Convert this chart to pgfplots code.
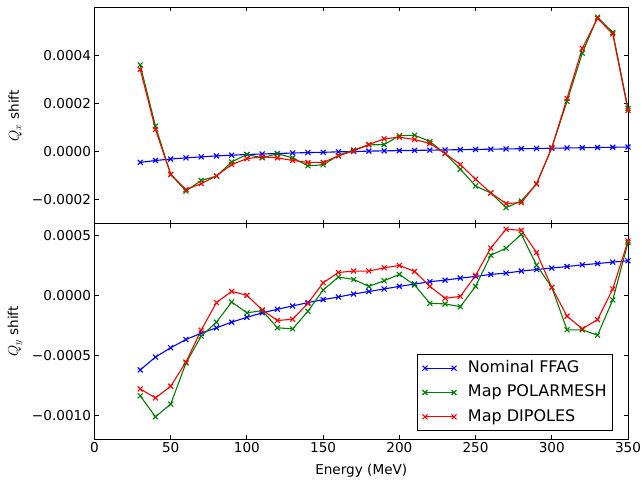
\documentclass[border=0pt]{standalone}
\usepackage{pgfplots}
\pgfplotsset{compat=1.18}
\usepackage{pgfplotstable}
\usepackage{fontspec}
\setmainfont{DejaVu Sans}
\definecolor{mplblue}{rgb}{0,0,1}
\definecolor{mplgreen}{rgb}{0,0.5,0}
\definecolor{mplred}{rgb}{1,0,0}

\pgfplotstableread{
E b g r
30 -4.4e-5 3.61e-4 3.43e-4
40 -3.6e-5 1.07e-4 0.93e-4
50 -3.0e-5 -0.94e-4 -0.94e-4
60 -2.5e-5 -1.63e-4 -1.57e-4
70 -2.1e-5 -1.19e-4 -1.32e-4
80 -1.7e-5 -1.01e-4 -1.00e-4
90 -1.4e-5 -0.42e-4 -0.53e-4
100 -1.1e-5 -0.11e-4 -0.28e-4
110 -0.9e-5 -0.25e-4 -0.21e-4
120 -0.7e-5 -0.08e-4 -0.25e-4
130 -0.5e-5 -0.25e-4 -0.36e-4
140 -0.3e-5 -0.58e-4 -0.44e-4
150 -0.2e-5 -0.54e-4 -0.44e-4
160 0.0 -0.15e-4 -0.17e-4
170 0.1e-5 0.08e-4 0.04e-4
180 0.3e-5 0.29e-4 0.30e-4
190 0.4e-5 0.30e-4 0.54e-4
200 0.5e-5 0.67e-4 0.61e-4
210 0.6e-5 0.69e-4 0.51e-4
220 0.7e-5 0.43e-4 0.35e-4
230 0.8e-5 -0.07e-4 -0.07e-4
240 0.9e-5 -0.72e-4 -0.53e-4
250 1.0e-5 -1.42e-4 -1.14e-4
260 1.1e-5 -1.71e-4 -1.71e-4
270 1.2e-5 -2.32e-4 -2.15e-4
280 1.3e-5 -2.04e-4 -2.11e-4
290 1.4e-5 -1.33e-4 -1.33e-4
300 1.5e-5 0.17e-4 0.17e-4
310 1.6e-5 2.10e-4 2.22e-4
320 1.7e-5 4.10e-4 4.30e-4
330 1.8e-5 5.60e-4 5.55e-4
340 1.9e-5 4.97e-4 4.90e-4
350 2.0e-5 1.80e-4 1.72e-4
}\qx

\pgfplotstableread{
E b g r
30 -6.22e-4 -8.39e-4 -7.81e-4
40 -5.14e-4 -10.14e-4 -8.56e-4
50 -4.36e-4 -9.08e-4 -7.58e-4
60 -3.67e-4 -5.64e-4 -5.56e-4
70 -3.14e-4 -3.39e-4 -2.89e-4
80 -2.69e-4 -2.22e-4 -0.58e-4
90 -2.22e-4 -0.53e-4 0.36e-4
100 -1.81e-4 -1.44e-4 0.03e-4
110 -1.44e-4 -1.25e-4 -1.19e-4
120 -1.14e-4 -2.69e-4 -2.08e-4
130 -0.86e-4 -2.78e-4 -1.97e-4
140 -0.58e-4 -1.31e-4 -0.64e-4
150 -0.33e-4 0.47e-4 1.08e-4
160 -0.11e-4 1.56e-4 1.94e-4
170 0.14e-4 1.36e-4 2.06e-4
180 0.35e-4 0.78e-4 2.06e-4
190 0.56e-4 1.25e-4 2.33e-4
200 0.78e-4 1.78e-4 2.53e-4
210 0.97e-4 0.89e-4 2.03e-4
220 1.17e-4 -0.64e-4 0.78e-4
230 1.30e-4 -0.69e-4 -0.22e-4
240 1.47e-4 -0.92e-4 -0.06e-4
250 1.61e-4 0.78e-4 1.69e-4
260 1.78e-4 3.39e-4 4.00e-4
270 1.89e-4 3.97e-4 5.56e-4
280 2.06e-4 5.14e-4 5.47e-4
290 2.19e-4 2.56e-4 3.61e-4
300 2.31e-4 0.69e-4 0.69e-4
310 2.44e-4 -2.86e-4 -1.72e-4
320 2.58e-4 -2.86e-4 -2.78e-4
330 2.69e-4 -3.31e-4 -2.00e-4
340 2.81e-4 -0.36e-4 0.56e-4
350 2.92e-4 4.44e-4 4.58e-4
}\qy

\pgfplotsset{
  mpl/.style={
    scale only axis,
    width=533.5pt,
    xmin=0, xmax=350,
    xtick={0,50,100,150,200,250,300,350},
    tick align=inside,
    major tick length=4pt,
    minor tick num=0,
    axis line style={black, line width=1pt},
    every tick/.style={black, line width=1pt},
    scaled y ticks=false,
    scaled x ticks=false,
    tick label style={font=\fontsize{13.6}{16}\selectfont},
    every axis x label/.style={at={(axis description cs:0.5,0)}, anchor=north, yshift=-22pt, font=\fontsize{13.6}{16}\selectfont},
    every axis y label/.style={at={(axis description cs:-0.149,0.5)}, rotate=90, anchor=center, font=\fontsize{13.6}{16}\selectfont},
    /pgf/number format/assume math mode=true,
    clip=true,
  },
  lb/.style={mplblue, line width=1.1pt, mark=x, mark size=3.5pt, mark options={solid}},
  lg/.style={mplgreen, line width=1.1pt, mark=x, mark size=3.5pt, mark options={solid}},
  lr/.style={mplred, line width=1.1pt, mark=x, mark size=3.5pt, mark options={solid}},
}

\begin{document}
\begin{tikzpicture}
\useasboundingbox (0,0) rectangle (642pt,479pt);

\begin{axis}[mpl,
  at={(94.5pt,255pt)}, anchor=south west,
  height=216.5pt,
  ymin=-0.0003, ymax=0.0006,
  ytick={-0.0002,0,0.0002,0.0004},
  yticklabels={−0.0002,0.0000,0.0002,0.0004},
  xticklabels={},
  ylabel={$Q_x$ shift},
]
\addplot[lb] table[x=E,y=b] {\qx};
\addplot[lg] table[x=E,y=g] {\qx};
\addplot[lr] table[x=E,y=r] {\qx};
\end{axis}

\begin{axis}[mpl,
  at={(94.5pt,40pt)}, anchor=south west,
  height=215pt,
  ymin=-0.0012, ymax=0.0006,
  ytick={-0.001,-0.0005,0,0.0005},
  yticklabels={−0.0010,−0.0005,0.0000,0.0005},
  xticklabels={0,50,100,150,200,250,300,350},
  xlabel={Energy (MeV)},
  ylabel={$Q_y$ shift},
  legend cell align=left,
  legend style={at={(rel axis cs:0.971,0.037)}, anchor=south east,
    draw=black, line width=1pt, fill=white,
    font=\fontsize{16}{19}\selectfont,
    inner xsep=5.5pt, inner ysep=6pt,
    row sep=8.8pt, column sep=11.5pt,
    nodes={inner sep=0pt, text height=12pt, text depth=3.5pt}},
  legend image code/.code={\draw[#1] plot coordinates {(0pt,0pt) (29pt,0pt)};},
]
\addplot[lb] table[x=E,y=b] {\qy};
\addlegendentry{Nominal FFAG}
\addplot[lg] table[x=E,y=g] {\qy};
\addlegendentry{Map POLARMESH}
\addplot[lr] table[x=E,y=r] {\qy};
\addlegendentry{Map DIPOLES}
\end{axis}
\end{tikzpicture}
\end{document}
